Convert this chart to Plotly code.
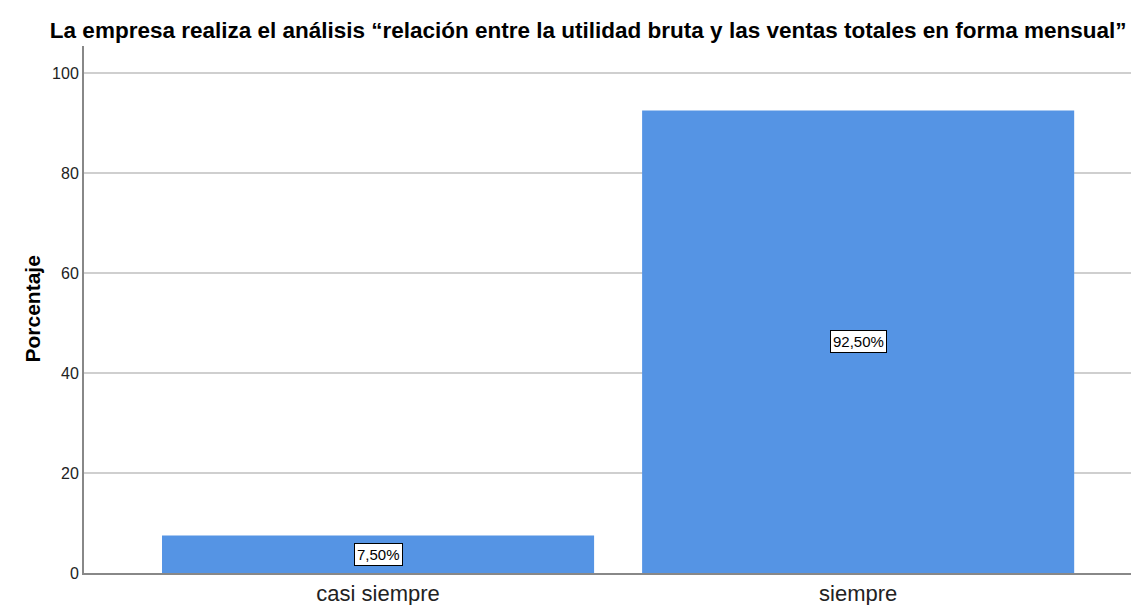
import plotly.graph_objects as go

categories = ["casi siempre", "siempre"]
values = [7.5, 92.5]
labels = ["7,50%", "92,50%"]
title = "La empresa realiza el análisis “relación entre la utilidad bruta y las ventas totales en forma mensual”"
y_title = "Porcentaje"

fig = go.Figure()
fig.add_trace(go.Bar(
    x=categories, y=values, width=0.9,
    marker=dict(color="#5594E4", line=dict(width=0)),
    hoverinfo="skip",
))

for c, v, t in zip(categories, values, labels):
    fig.add_annotation(
        x=c, y=v / 2, text=t, showarrow=False,
        font=dict(family="Arial, Liberation Sans", size=15, color="#000"),
        bgcolor="white", bordercolor="#000", borderwidth=1, borderpad=2,
    )

fig.add_annotation(
    xref="paper", yref="paper", x=0, y=0.5, xshift=-52, textangle=-90,
    xanchor="center", yanchor="middle", showarrow=False,
    text="<b>" + y_title + "</b>",
    font=dict(family="Arial, Liberation Sans", size=21, color="#000"),
)

fig.update_layout(
    width=1131, height=597,
    margin=dict(l=76, r=0, t=38, b=32),
    paper_bgcolor="white", plot_bgcolor="white",
    showlegend=False,
    title=dict(text="<b>" + title + "</b>", x=0.513, xanchor="center", y=1 - 22 / 597, yanchor="middle",
               font=dict(family="Arial, Liberation Sans", size=22.5, color="#000")),
    font=dict(family="Arial, Liberation Sans"),
)
fig.update_xaxes(
    range=[-0.6125, 1.585], showgrid=False, showline=True, linecolor="#888", linewidth=2,
    ticks="", tickfont=dict(size=22, color="#222"),
)
fig.update_yaxes(
    range=[0, 105.4], tickvals=[0, 20, 40, 60, 80, 100], showgrid=True, gridcolor="#cfcfcf", gridwidth=2,
    showline=True, linecolor="#888", linewidth=2, ticks="", zeroline=False,
    tickfont=dict(size=16, color="#222"),
)
fig.write_html("out.html")
